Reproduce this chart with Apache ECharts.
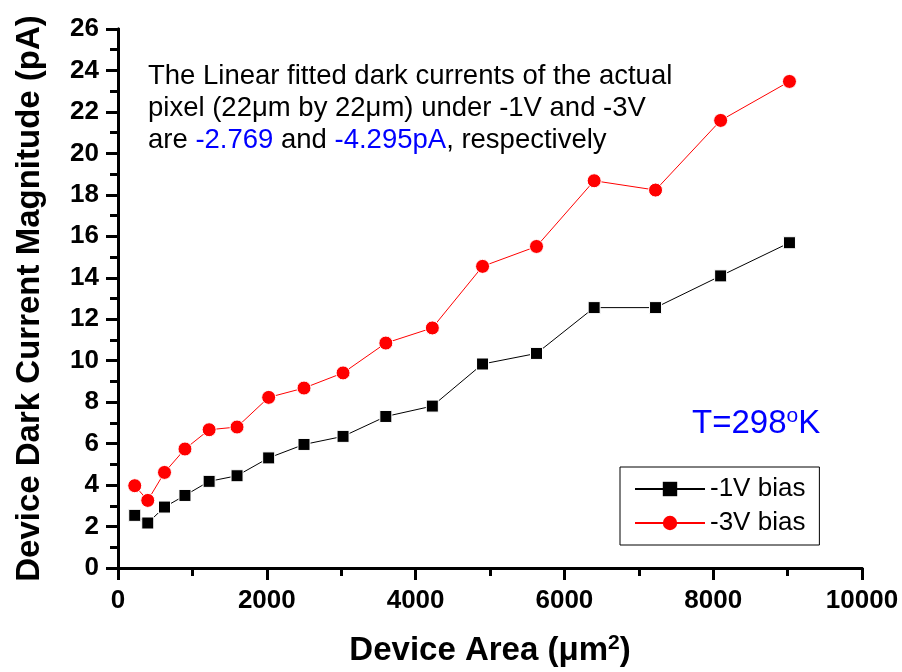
<!DOCTYPE html>
<html>
<head>
<meta charset="utf-8">
<script src="https://cdn.jsdelivr.net/npm/echarts@6/dist/echarts.min.js"></script>
<style>
  html, body { margin: 0; padding: 0; background: #fff; }
  #chart { width: 902px; height: 672px; }
</style>
</head>
<body>
<div id="chart"></div>
<script>
// device area (um^2) = side length squared, 15um..95um
const areas = [225, 400, 625, 900, 1225, 1600, 2025, 2500, 3025, 3600, 4225, 4900, 5625, 6400, 7225, 8100, 9025]
const bias1V = [2.54, 2.17, 2.94, 3.50, 4.18, 4.45, 5.31, 5.96, 6.35, 7.31, 7.81, 9.84, 10.35, 12.56, 12.56, 14.09, 15.69]
const bias3V = [3.97, 3.26, 4.61, 5.74, 6.67, 6.80, 8.23, 8.68, 9.41, 10.85, 11.58, 14.55, 15.51, 18.68, 18.23, 21.59, 23.47]
const seriesNames = ['-1V bias', '-3V bias']

const FONT = 'Arial, "Liberation Sans", sans-serif'

const chart = echarts.init(document.getElementById('chart'))

const pairs = (ys) => areas.map((x, i) => [x, ys[i]])

const option = {
  animation: false,
  grid: { left: 118, right: 40, top: 29, bottom: 104, containLabel: false, outerBoundsMode: 'none' },
  xAxis: [
    {
      type: 'value',
      min: 0,
      max: 10000,
      interval: 2000,
      splitLine: { show: false },
      axisLine: { lineStyle: { color: '#000', width: 3 } },
      axisTick: { length: 12, lineStyle: { color: '#000', width: 3 } },
      minorTick: { show: true, splitNumber: 2, length: 8, lineStyle: { color: '#000', width: 3 } },
      axisLabel: {
        color: '#000', fontFamily: FONT, fontWeight: 'bold', fontSize: 26, margin: 20,
        formatter: (v) => String(v)
      },
      name: 'Device Area (μm{sup|2})',
      nameLocation: 'middle',
      nameGap: 65,
      nameTextStyle: {
        color: '#000', fontFamily: FONT, fontWeight: 'bold', fontSize: 33,
        rich: { sup: { fontSize: 21, fontWeight: 'bold', fontFamily: FONT, verticalAlign: 'top', padding: [0, 0, 14, 0] } }
      }
    },
    {
      type: 'value',
      position: 'top',
      min: 0,
      max: 10000,
      splitLine: { show: false },
      axisLine: { show: true, lineStyle: { color: '#000', width: 3 } },
      axisTick: { show: false },
      axisLabel: { show: false }
    }
  ],
  yAxis: [
    {
      type: 'value',
      min: 0,
      max: 26,
      interval: 2,
      splitLine: { show: false },
      axisLine: { show: true, lineStyle: { color: '#000', width: 3 } },
      axisTick: { show: true, length: 12, lineStyle: { color: '#000', width: 3 } },
      minorTick: { show: true, splitNumber: 2, length: 8, lineStyle: { color: '#000', width: 3 } },
      axisLabel: { color: '#000', fontFamily: FONT, fontWeight: 'bold', fontSize: 26, margin: 19 },
      name: 'Device Dark Current Magnitude (pA)',
      nameLocation: 'middle',
      nameGap: 72,
      nameTextStyle: { color: '#000', fontFamily: FONT, fontWeight: 'bold', fontSize: 33 }
    },
    {
      type: 'value',
      position: 'right',
      min: 0,
      max: 26,
      interval: 2,
      splitLine: { show: false },
      axisLine: { show: true, lineStyle: { color: '#000', width: 3 } },
      axisTick: { show: true, inside: true, length: 3, lineStyle: { color: '#000', width: 3 } },
      minorTick: { show: true, splitNumber: 2, length: 3, lineStyle: { color: '#000', width: 3 } },
      axisLabel: { show: false }
    }
  ],
  legend: {
    orient: 'vertical',
    left: 620,
    top: 467,
    width: 207,
    padding: [9, 14, 9, 14],
    itemWidth: 70,
    itemHeight: 18,
    itemGap: 8,
    borderColor: '#000',
    borderWidth: 1,
    itemStyle: { borderWidth: 0 },
    textStyle: { color: '#000', fontFamily: FONT, fontSize: 26 },
    data: seriesNames
  },
  series: [
    {
      name: seriesNames[0],
      type: 'line',
      data: pairs(bias1V),
      symbol: 'rect',
      symbolSize: 12,
      lineStyle: { color: '#000', width: 1 },
      itemStyle: { color: '#000', borderColor: '#fff', borderWidth: 1 }
    },
    {
      name: seriesNames[1],
      type: 'line',
      data: pairs(bias3V),
      symbol: 'circle',
      symbolSize: 14,
      lineStyle: { color: '#ff0000', width: 1 },
      itemStyle: { color: '#ff0000', borderColor: '#fff', borderWidth: 1 }
    }
  ],
  graphic: [
    {
      type: 'text',
      left: 148,
      top: 60,
      style: {
        text: 'The Linear fitted dark currents of the actual\npixel (22μm by 22μm) under -1V and -3V\nare {b|-2.769} and {b|-4.295pA}, respectively',
        font: '27.5px ' + FONT,
        fill: '#000',
        lineHeight: 32,
        rich: {
          b: { fill: '#0000ff', font: '27.5px ' + FONT, lineHeight: 32 }
        }
      }
    },
    {
      type: 'text',
      left: 692,
      top: 406,
      style: {
        text: 'T=298{sup|o}K',
        font: '33px ' + FONT,
        fill: '#0000ff',
        rich: {
          sup: { fill: '#0000ff', font: '21px ' + FONT, verticalAlign: 'top', padding: [0, 0, 14, 0] }
        }
      }
    }
  ]
}

chart.setOption(option)
</script>
</body>
</html>
